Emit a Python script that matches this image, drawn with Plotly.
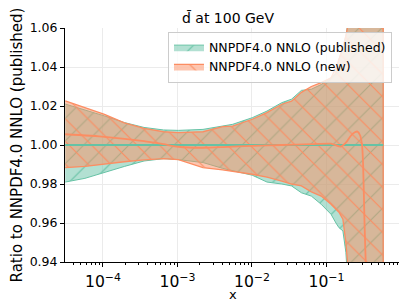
import plotly.graph_objects as go

# x grid (momentum fraction)
x = [3.12e-5, 5.73e-5, 1.05e-4, 1.94e-4, 3.56e-4, 6.53e-4, 1.03e-3, 2.20e-3,
     4.05e-3, 5.50e-3, 1.01e-2, 1.59e-2, 2.51e-2, 3.40e-2, 4.61e-2, 6.26e-2,
     8.49e-2, 0.115, 0.134, 0.147, 0.166, 0.182, 0.193, 0.224, 0.261, 0.304,
     0.344, 0.452, 0.577]

pub_upper = [1.021, 1.018, 1.0149, 1.0115, 1.009, 1.0077, 1.0075, 1.008,
             1.0097, 1.0106, 1.014, 1.0174, 1.0217, 1.0235, 1.028, 1.0286,
             1.031, 1.0345, 1.037, 1.044, 1.050, 1.056, 1.062, 1.08, 1.10, 1.12,
             1.14, 1.18, 1.20]
pub_lower = [0.981, 0.9829, 0.9858, 0.989, 0.9918, 0.993, 0.9925, 0.991,
             0.988, 0.9867, 0.9845, 0.981, 0.980, 0.979, 0.9755, 0.9738,
             0.9696, 0.9645, 0.960, 0.9576, 0.956, 0.945, 0.93, 0.90, 0.85,
             0.80, 0.78, 0.75, 0.72]
pub_central = [1.0] * len(x)

new_upper = [1.0226, 1.019, 1.0157, 1.0114, 1.0085, 1.0068, 1.0063, 1.0068,
             1.0094, 1.0097, 1.0132, 1.0166, 1.0209, 1.0225, 1.027, 1.030,
             1.032, 1.0345, 1.0396, 1.044, 1.050, 1.056, 1.061, 1.08, 1.10,
             1.12, 1.14, 1.18, 1.20]
new_lower = [0.9884, 0.989, 0.9902, 0.9914, 0.9924, 0.993, 0.9925, 0.9884,
             0.9872, 0.9867, 0.985, 0.9835, 0.9815, 0.980, 0.979, 0.976,
             0.9738, 0.9696, 0.967, 0.9655, 0.962, 0.950, 0.94, 0.91, 0.88,
             0.85, 0.82, 0.78, 0.75]

new_cx = [3.12e-5, 1.05e-4, 3.56e-4, 6.53e-4, 1.03e-3, 2.20e-3, 4.05e-3,
          1.01e-2, 2.51e-2, 6.26e-2, 0.115, 0.155, 0.182, 0.210, 0.240,
          0.261, 0.282, 0.300, 0.310, 0.324, 0.344, 0.577]
new_central = [1.0055, 1.0042, 1.002, 1.0004, 0.9991, 0.9986, 0.9989,
               0.9996, 1.0, 1.0004, 1.0007, 0.9992, 1.0012, 1.0045, 1.0065,
               1.0069, 1.005, 1.0, 0.99, 0.96, 0.93, 0.80]

names = ["NNPDF4.0 NNLO (published)", "NNPDF4.0 NNLO (new)"]
TEAL = "#66c2a5"
ORANGE = "#fc8d62"

fig = go.Figure()

def band(upper, lower, color, rgba, shape, name, lw):
    fig.add_trace(go.Scatter(
        x=x + x[::-1], y=upper + lower[::-1],
        fill="toself", mode="lines",
        line=dict(color=color, width=lw),
        fillcolor=rgba,
        fillpattern=dict(shape=shape, fgcolor=color, bgcolor=rgba,
                         size=16, solidity=0.07, fillmode="replace"),
        name=name, hoverinfo="skip"))

band(pub_upper, pub_lower, TEAL, "rgba(102,194,165,0.5)", "/", names[0], 1.0)
band(new_upper, new_lower, ORANGE, "rgba(252,141,98,0.5)", "\\", names[1], 1.3)

fig.add_trace(go.Scatter(x=x, y=pub_central, mode="lines",
                         line=dict(color=TEAL, width=1.8), showlegend=False))
fig.add_trace(go.Scatter(x=new_cx, y=new_central, mode="lines",
                         line=dict(color=ORANGE, width=1.8, shape="spline",
                                   smoothing=0.6), showlegend=False))

FONT = "DejaVu Sans"
fig.update_layout(
    width=399, height=299,
    margin=dict(l=52, r=8, t=20, b=45),
    paper_bgcolor="white", plot_bgcolor="white",
    font=dict(family=FONT, size=12.5, color="black"),
    title=dict(text="d\u0304 at 100 GeV", x=0.5514, xanchor="center",
               y=0.966, yanchor="middle", yref="container",
               font=dict(size=14, family=FONT)),
    legend=dict(x=0.979, xanchor="right", y=0.985, yanchor="top",
                bgcolor="rgba(255,255,255,0.8)", bordercolor="#cccccc",
                borderwidth=1, itemwidth=30,
                font=dict(size=12.5, family=FONT)),
    showlegend=True,
    annotations=[dict(text="x", xref="paper", yref="paper", x=0.5015,
                      y=-0.141, xanchor="center", yanchor="middle",
                      showarrow=False, font=dict(size=13, family=FONT))],
)
fig.update_xaxes(
    type="log", range=[-4.509, -0.027],
    showline=True, linecolor="black", linewidth=1,
    ticks="outside", ticklen=4, tickcolor="black",
    dtick=1, exponentformat="power", ticklabelstandoff=2,
    showgrid=True, gridcolor="#ebebeb", gridwidth=1,
    minor=dict(ticks="outside", ticklen=2, tickcolor="black", showgrid=False),
    zeroline=False,
)
fig.update_yaxes(
    range=[0.94, 1.06], dtick=0.02, tickformat=".2f",
    showline=True, linecolor="black", linewidth=1,
    ticks="outside", ticklen=4, tickcolor="black",
    showgrid=True, gridcolor="#ebebeb", gridwidth=1,
    title=dict(text="Ratio to NNPDF4.0 NNLO (published)", standoff=3),
    zeroline=False,
)

fig.write_html("out.html")
